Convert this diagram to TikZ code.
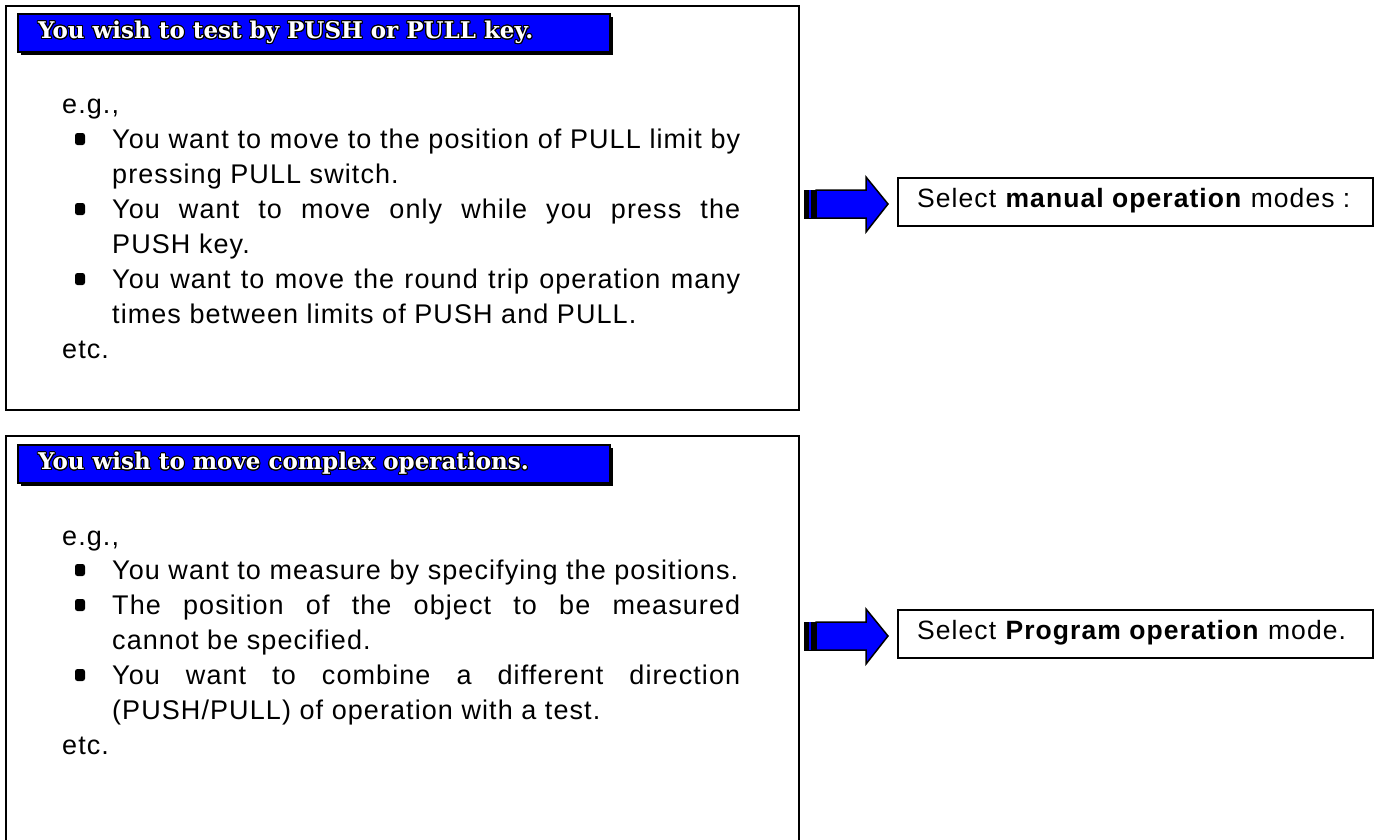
\documentclass[tikz,border=0pt]{standalone}
\usepackage{fontspec}
\setmainfont{Liberation Sans}[LetterSpace=4]
\newfontfamily\titlefont{DejaVu Serif}
\usepackage[copies]{contour}
\contourlength{1pt}
\definecolor{barblue}{RGB}{0,0,255}
\begin{document}
\begin{tikzpicture}[x=1pt,y=-1pt,
  frame/.style={draw=black, line width=2.5pt, fill=white},
  titlebar/.style={draw=black, line width=2pt, fill=barblue},
  titletxt/.style={anchor=west, inner sep=0pt, font=\titlefont\bfseries\fontsize{23}{26}\selectfont},
  bodytxt/.style={anchor=base west, inner sep=0pt, font=\fontsize{27}{32}\selectfont},
  bul/.style={fill=black, rounded corners=2.5pt, minimum width=10pt, minimum height=12pt, inner sep=0pt},
  selbox/.style={draw=black, line width=2pt, fill=white, anchor=north west, minimum width=475pt, minimum height=48pt, inner sep=0pt},
  seltxt/.style={anchor=west, inner sep=0pt, font=\fontsize{26.5}{30}\selectfont},
  blockarrow/.style={draw=black, line width=1.5pt, fill=barblue, line join=miter},
]
\useasboundingbox (0,0) rectangle (1377,839);
\begin{scope}
\clip (0,0) rectangle (1377,839);
% frames
\draw[frame] (6,6) rectangle (799,410);
\draw[frame] (6,436) rectangle (799,900);
\end{scope}
% title bars
\fill[black] (21,17) rectangle (613,55);
\draw[titlebar] (18,14) rectangle (610,52);
\node[titletxt] (t1) at (38,33) {\contour{black}{\textcolor{white}{You wish to test by PUSH or PULL key.}}};
\fill[black] (21,448) rectangle (613,486);
\draw[titlebar] (18,445) rectangle (610,483);
\node[titletxt] (t2) at (38,464) {\contour{black}{\textcolor{white}{You wish to move complex operations.}}};

% box 1 text
\node[bodytxt] (e1) at (62,113) {e.g.,};
\node[bul] (b11) at (80,139) {};
\node[bodytxt] (l11) at (112,148) {\makebox[628pt][s]{You want to move to the position of PULL limit by}};
\node[bodytxt] (l12) at (112,183) {pressing PULL switch.};
\node[bul] (b12) at (80,209) {};
\node[bodytxt] (l13) at (112,218) {\makebox[628pt][s]{You want to move only while you press the}};
\node[bodytxt] (l14) at (112,253) {PUSH key.};
\node[bul] (b13) at (80,279) {};
\node[bodytxt] (l15) at (112,288) {\makebox[628pt][s]{You want to move the round trip operation many}};
\node[bodytxt] (l16) at (112,323) {times between limits of PUSH and PULL.};
\node[bodytxt] (x1) at (62,358) {etc.};

% box 2 text
\node[bodytxt] (e2) at (62,545) {e.g.,};
\node[bul] (b21) at (80,570) {};
\node[bodytxt] (l21) at (112,579) {You want to measure by specifying the positions.};
\node[bul] (b22) at (80,605) {};
\node[bodytxt] (l22) at (112,614) {\makebox[628pt][s]{The position of the object to be measured}};
\node[bodytxt] (l23) at (112,649) {cannot be specified.};
\node[bul] (b23) at (80,675) {};
\node[bodytxt] (l24) at (112,684) {\makebox[628pt][s]{You want to combine a different direction}};
\node[bodytxt] (l25) at (112,719) {(PUSH/PULL) of operation with a test.};
\node[bodytxt] (x2) at (62,754) {etc.};

% select boxes
\node[selbox] (s1) at (897,177) {};
\node[seltxt] (s1t) at (917,201) {Select \textbf{manual operation} modes :};
\node[selbox] (s2) at (897,609) {};
\node[seltxt] (s2t) at (917,633) {Select \textbf{Program operation} mode.};

% block arrows
\draw[blockarrow] (816,190) -- (866,190) -- (866,177) -- ([xshift=-9pt]s1.west |- 0,204) -- (866,232) -- (866,218) -- (816,218) -- cycle;
\draw[black, line width=1pt, fill=black] (804,190) rectangle (816,218);
\draw[barblue, line width=1.5pt] (810,190) -- (810,218);
\draw[blockarrow] (816,622) -- (866,622) -- (866,609) -- ([xshift=-9pt]s2.west |- 0,636) -- (866,664) -- (866,650) -- (816,650) -- cycle;
\draw[black, line width=1pt, fill=black] (804,622) rectangle (816,650);
\draw[barblue, line width=1.5pt] (810,622) -- (810,650);
\end{tikzpicture}
\end{document}
